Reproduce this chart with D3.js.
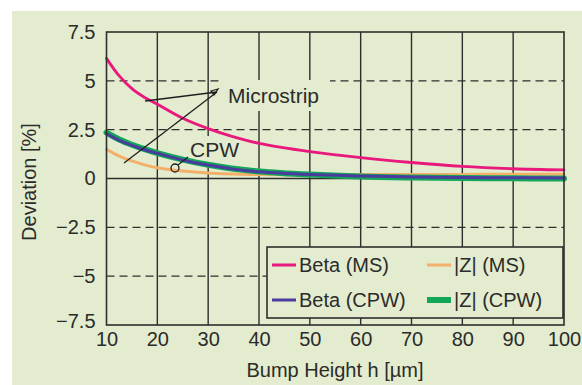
<!DOCTYPE html>
<html>
<head>
<meta charset="utf-8">
<script src="https://cdn.jsdelivr.net/npm/d3@7"></script>
<style>
  body { margin: 0; background: #fff; }
  svg text { font-family: "Liberation Sans", Arial, sans-serif; fill: #2b2b2b; }
</style>
</head>
<body>
<div id="canvas"></div>
<script>
// bump height samples (µm)
const heights = [10, 12.5, 15, 17.5, 20, 25, 30, 35, 40, 50, 60, 70, 80, 90, 100];
// deviation in %
const betaMS = [6.15, 5.25, 4.6, 4.15, 3.8, 3.08, 2.55, 2.13, 1.8, 1.38, 1.07, 0.82, 0.62, 0.5, 0.44];
const zMS = [1.5, 1.15, 0.9, 0.7, 0.55, 0.38, 0.28, 0.23, 0.2, 0.2, 0.2, 0.2, 0.21, 0.22, 0.22];
const betaCPW = [2.3, 1.95, 1.7, 1.47, 1.29, 0.95, 0.69, 0.48, 0.34, 0.2, 0.13, 0.08, 0.05, 0.04, 0.03];
const zCPW = [2.35, 2.0, 1.73, 1.5, 1.3, 0.97, 0.7, 0.5, 0.36, 0.2, 0.1, 0.05, 0.02, 0.01, 0.0];

const xTicks = [10, 20, 30, 40, 50, 60, 70, 80, 90, 100];
const yTicks = [7.5, 5, 2.5, 0, -2.5, -5, -7.5];
const dashedY = [5, 2.5, -2.5, -5];

const series = [
  { name: "Beta (MS)", vals: betaMS, color: "#e8187c", w: 2.8 },
  { name: "|Z| (MS)", vals: zMS, color: "#f4b06a", w: 3 },
  { name: "|Z| (CPW)", vals: zCPW, color: "#12a658", w: 6 },
  { name: "Beta (CPW)", vals: betaCPW, color: "#4b3b9e", w: 3 }
];

const width = 582, height = 385;
const bg = "#e3ecce";
const ink = "#2e2e2e";

const svg = d3.select("#canvas").append("svg").attr("width", width).attr("height", height);

svg.append("rect").attr("x", 12).attr("y", 11).attr("width", width - 12).attr("height", height - 11).attr("fill", bg);

const x = d3.scaleLinear().domain([10, 100]).range([106.5, 564]);
const y = d3.scaleLinear().domain([-7.5, 7.5]).range([325, 32]);

// grid
const grid = svg.append("g");
grid.selectAll("line.v").data(xTicks.slice(1, -1)).enter().append("line")
  .attr("x1", d => x(d)).attr("x2", d => x(d)).attr("y1", y(7.5)).attr("y2", y(-7.5))
  .attr("stroke", ink).attr("stroke-width", 1.4);
grid.selectAll("line.h").data(dashedY).enter().append("line")
  .attr("x1", x(10)).attr("x2", x(100)).attr("y1", d => y(d)).attr("y2", d => y(d))
  .attr("stroke", ink).attr("stroke-width", 1.4).attr("stroke-dasharray", "8,5");
grid.append("line").attr("x1", x(10)).attr("x2", x(100)).attr("y1", y(0)).attr("y2", y(0))
  .attr("stroke", ink).attr("stroke-width", 1.4);

// label masks over the grid
svg.append("rect").attr("x", 222).attr("y", 80).attr("width", 108).attr("height", 31).attr("fill", bg);
svg.append("rect").attr("x", 188).attr("y", 136).attr("width", 58).attr("height", 26).attr("fill", bg);

// curves
const line = d3.line().x(d => x(d[0])).y(d => y(d[1])).curve(d3.curveCatmullRom.alpha(0.5));
svg.append("g").selectAll("path").data(series).enter().append("path")
  .attr("d", s => line(heights.map((h, i) => [h, s.vals[i]])))
  .attr("fill", "none").attr("stroke", s => s.color).attr("stroke-width", s => s.w)
  .attr("stroke-linecap", "round");

// frame
svg.append("rect").attr("x", x(10)).attr("y", y(7.5)).attr("width", x(100) - x(10)).attr("height", y(-7.5) - y(7.5))
  .attr("fill", "none").attr("stroke", ink).attr("stroke-width", 1.6);

// axes labels
const yAxis = svg.append("g").attr("transform", `translate(${x(10) - 8},0)`)
  .call(d3.axisLeft(y).tickValues(yTicks).tickSize(0).tickFormat(d3.format("")));
yAxis.select(".domain").remove();
yAxis.selectAll("text").attr("font-size", 20).attr("fill", ink).attr("font-family", "Liberation Sans, Arial, sans-serif")
  .attr("dy", d => d === -7.5 ? "0.12em" : "0.32em");

const xAxis = svg.append("g").attr("transform", `translate(0,${y(-7.5) + 4})`)
  .call(d3.axisBottom(x).tickValues(xTicks).tickSize(0));
xAxis.select(".domain").remove();
xAxis.selectAll("text").attr("font-size", 20).attr("fill", ink).attr("font-family", "Liberation Sans, Arial, sans-serif");

svg.append("text").attr("x", 335).attr("y", 377).attr("text-anchor", "middle").attr("font-size", 20)
  .text("Bump Height h [µm]");
svg.append("text").attr("transform", "translate(36,182) rotate(-90)").attr("text-anchor", "middle").attr("font-size", 20)
  .text("Deviation [%]");

// annotations
const ann = svg.append("g").attr("stroke", "#1e1e1e").attr("stroke-width", 1.3).attr("fill", "none");
ann.append("line").attr("x1", 145).attr("y1", 101).attr("x2", 217).attr("y2", 92);
ann.append("line").attr("x1", 124).attr("y1", 163).attr("x2", 217).attr("y2", 92);
ann.append("path").attr("d", "M211,91 L218,89 L214,95 Z");
ann.append("circle").attr("cx", 175).attr("cy", 168).attr("r", 4);
ann.append("line").attr("x1", 178).attr("y1", 165).attr("x2", 188).attr("y2", 157);

svg.append("text").attr("x", 228).attr("y", 103).attr("font-size", 21).text("Microstrip");
svg.append("text").attr("x", 190).attr("y", 157).attr("font-size", 21).text("CPW");

// legend
const lg = svg.append("g");
lg.append("rect").attr("x", 267).attr("y", 247).attr("width", 296).attr("height", 71)
  .attr("fill", bg).attr("stroke", ink).attr("stroke-width", 1.6);
const legendItems = [
  { s: series[0], lx: 272, ty: 265 },
  { s: series[1], lx: 427, ty: 265 },
  { s: series[3], lx: 272, ty: 300 },
  { s: series[2], lx: 427, ty: 300 }
];
legendItems.forEach(it => {
  lg.append("line").attr("x1", it.lx).attr("x2", it.lx + 24).attr("y1", it.ty).attr("y2", it.ty)
    .attr("stroke", it.s.color).attr("stroke-width", it.s.w === 6 ? 6 : 3);
  lg.append("text").attr("x", it.lx + 27).attr("y", it.ty).attr("dy", "0.35em").attr("font-size", 20)
    .text(it.s.name);
});
</script>
</body>
</html>
